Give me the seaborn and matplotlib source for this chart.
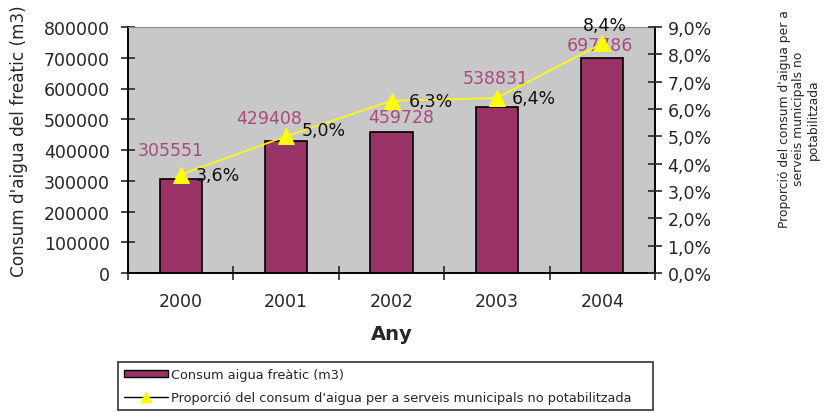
import matplotlib
matplotlib.use("Agg")
import matplotlib.pyplot as plt
from matplotlib.lines import Line2D
from matplotlib.patches import Patch
from matplotlib.ticker import FuncFormatter, MultipleLocator
import numpy as np
import pandas as pd
import seaborn as sns

# Dades
anys = ["2000", "2001", "2002", "2003", "2004"]
consum = [305551, 429408, 459728, 538831, 697786]
proporcio = [3.6, 5.0, 6.3, 6.4, 8.4]

consum_labels = ["305551", "429408", "459728", "538831", "697786"]
prop_labels = ["3,6%", "5,0%", "6,3%", "6,4%", "8,4%"]

sns.set_style("white")
plt.rcParams["font.family"] = ["DejaVu Sans"]

df = pd.DataFrame({"Any": anys, "Consum": consum, "Proporcio": proporcio})

fig = plt.figure(figsize=(8.26, 4.14), dpi=100)
ax = fig.add_axes([128 / 826, 1 - 274 / 414, 527 / 826, 246 / 414])
ax.set_facecolor("#c8c8c8")

sns.barplot(data=df, x="Any", y="Consum", color="#993366", width=0.4,
            edgecolor="black", linewidth=1.2, saturation=1, ax=ax)
ax.set_ylim(0, 800000)
ax.set_xlim(-0.5, 4.5)
ax.yaxis.set_major_locator(MultipleLocator(100000))
ax.set_xlabel("Any", fontsize=14, fontweight="bold", labelpad=10)
ax.set_ylabel("Consum d'aigua del freàtic (m3)", fontsize=12.2)
ax.yaxis.set_label_coords(-0.19, 0.54)
ax.tick_params(axis="y", direction="inout", length=10, width=1.2, labelsize=12.5, pad=8, left=True)
ax.tick_params(axis="x", which="major", length=0, labelsize=12.5, pad=14)
ax.set_xticks([-0.5, 0.5, 1.5, 2.5, 3.5, 4.5], minor=True)
ax.tick_params(axis="x", which="minor", direction="inout", length=10, width=1.2, bottom=True)

for s in ["left", "bottom", "right"]:
    ax.spines[s].set_color("black")
    ax.spines[s].set_linewidth(1.4)
ax.spines["top"].set_color("#909090")

# etiquetes de valors de les barres
bar_off = [(-7, 20.6), (-12, 16.8), (7, 10.8), (-0.7, 21.3), (-1.4, 9.8)]
for i, v in enumerate(consum):
    ax.annotate(consum_labels[i], (i, v), xytext=bar_off[i], textcoords="offset points",
                ha="center", va="center", color="#a84a7e", fontsize=12.5)

ax2 = ax.twinx()
sns.lineplot(x=np.arange(len(anys)), y=proporcio, ax=ax2, color="#ffff00", linewidth=1.2,
             marker="^", markersize=11, markeredgecolor="#ffff00")
ax2.set_ylim(0, 9)
ax2.set_xlim(-0.5, 4.5)
ax2.yaxis.set_major_locator(MultipleLocator(1))
ax2.yaxis.set_major_formatter(FuncFormatter(lambda v, p: f"{v:.1f}%".replace(".", ",")))
ax2.tick_params(axis="y", direction="inout", length=10, width=1.2, labelsize=12.5, pad=4, right=True)
for s in ax2.spines.values():
    s.set_visible(False)

pct_off = [(26.6, 0), (27, 4.9), (28, 0), (26.6, 0), (2, 13.3)]
for i, v in enumerate(proporcio):
    ax2.annotate(prop_labels[i], (i, v), xytext=pct_off[i], textcoords="offset points",
                 ha="center", va="center", color="#111111", fontsize=12.5)

fig.text(0.967, 0.712, "Proporció del consum d'aigua per a\nserveis municipals no\npotabilitzada",
         rotation=90, ha="center", va="center", multialignment="center", fontsize=8.9,
         linespacing=1.15)

handles = [
    Patch(facecolor="#993366", edgecolor="black", label="Consum aigua freàtic (m3)"),
    Line2D([0], [0], color="black", linewidth=1, marker="^", markersize=7,
           markerfacecolor="#ffff00", markeredgecolor="#ffff00",
           label="Proporció del consum d'aigua per a serveis municipals no potabilitzada"),
]
leg = fig.legend(handles=handles, loc="upper left", mode="expand",
                 bbox_to_anchor=(118 / 826, 0, 535 / 826, 1 - 363 / 414),
                 fontsize=9.3, frameon=True, fancybox=False, edgecolor="black",
                 borderpad=0.45, handlelength=3.4, handleheight=0.45, handletextpad=0.25,
                 labelspacing=0.8, borderaxespad=0)
leg.get_frame().set_linewidth(1.2)

fig.savefig("out.png", dpi=100)
